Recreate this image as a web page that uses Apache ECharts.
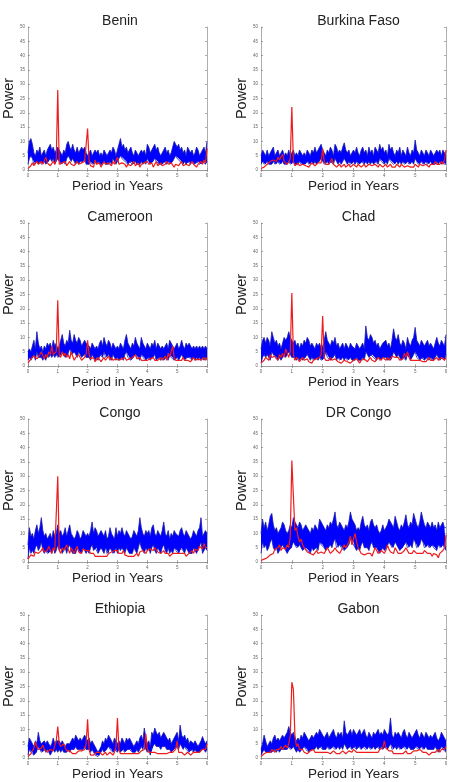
<!DOCTYPE html>
<html><head><meta charset="utf-8">
<script src="https://cdn.jsdelivr.net/npm/echarts@6/dist/echarts.min.js"></script>
<style>html,body{margin:0;padding:0;background:#fff}#c{width:454px;height:782px}</style>
</head><body><div id="c"></div>
<script>
const countries = ['Benin','Burkina Faso','Cameroon','Chad','Congo','DR Congo','Ethiopia','Gabon'];
const xTicks = [0,1,2,3,4,5,6];
const yTicks = [0,5,10,15,20,25,30,35,40,45,50];
const periods = [0,0.05,0.1,0.15,0.2,0.25,0.3,0.35,0.4,0.45,0.5,0.55,0.6,0.65,0.7,0.75,0.8,0.85,0.9,0.95,
1,1.05,1.1,1.15,1.2,1.25,1.3,1.35,1.4,1.45,1.5,1.55,1.6,1.65,1.7,1.75,1.8,1.85,1.9,1.95,
2,2.05,2.1,2.15,2.2,2.25,2.3,2.35,2.4,2.45,2.5,2.55,2.6,2.65,2.7,2.75,2.8,2.85,2.9,2.95,
3,3.05,3.1,3.15,3.2,3.25,3.3,3.35,3.4,3.45,3.5,3.55,3.6,3.65,3.7,3.75,3.8,3.85,3.9,3.95,
4,4.05,4.1,4.15,4.2,4.25,4.3,4.35,4.4,4.45,4.5,4.55,4.6,4.65,4.7,4.75,4.8,4.85,4.9,4.95,
5,5.05,5.1,5.15,5.2,5.25,5.3,5.35,5.4,5.45,5.5,5.55,5.6,5.65,5.7,5.75,5.8,5.85,5.9,5.95,6];

const beninHi = [6,10,11,9,6,5,7,6,8,5,6,7,5,7,8,9,7,8,6,7,
8,8,6,5,7,6,9,10,8,7,9,7,6,8,6,7,8,7,8,6,
5,6,7,5,6,7,6,7,5,6,5,7,6,5,6,7,6,8,7,5,
7,9,11,8,9,7,8,6,7,8,6,5,7,6,5,6,7,6,7,5,
9,8,6,7,8,9,7,8,6,5,6,7,8,6,7,5,6,8,10,10.5,
8,9,7,8,6,7,5,8,7,6,7,5,6,8,7,5,6,7,8,6,10];
const beninLo = [2,4,5,4,2,2,3,2,3,2,2,3,2,3,3,4,3,4,2,3,
4,3,2,2,3,2,4,5,4,3,4,3,2,3,2,3,3,3,4,2,
2,2,3,2,2,3,2,3,2,2,2,3,2,2,2,3,2,4,3,2,
3,4,5,4,4,3,3,2,3,3,2,2,3,2,2,2,3,2,3,2,
4,3,2,3,3,4,3,3,2,2,2,3,3,2,3,2,2,3,4,5,
4,4,3,3,2,3,2,3,3,2,3,2,2,3,3,2,2,3,3,2,3];
const beninRed = [0.5,0.8,1.5,2.5,1.5,2,3,2,2.5,3,2,2.5,4.5,2.5,2,1.5,2,3,2,4,
28,2,1.5,2.5,2,3,1.5,2,3,2,2.5,1.5,2,3,2,1.5,2.5,2,3,2.5,
14.5,3,1.5,2,1,3.5,2,1.5,2.5,1,2,3,2,1.5,2.5,2,1.5,3,2,2.5,
4.5,2,1.5,2.5,3,2,1,2,2.5,1.5,2,3,1.5,2,2.5,1,2,1.5,2.5,2,
3,2,1.5,2.5,1,2,3,1.5,2,2.5,1.5,1,2,3,2,1.5,2.5,2,1,2,
2.5,1.5,2,3,1.5,1,2,2.5,1.5,2,3,2,1.5,1,2,2.5,3,2,3.5,2.5,7.5];

const burkinaHi = [5,7,6,5,7,5,6,6,8,5,6,7,5,6,7,5,6,5,7,5,
6,7,5,6,5,7,6,5,6,5,7,6,5,7,6,8,6,7,8,9,
7,6,5,7,6,8,7,5,9,8,6,7,6,8,9.5,7,6,7,5,6,
7,6,8,6,5,7,8,6,7,5,8,6,7,5,8,7,6,9,7,8,
6,7,5,9,7,8,6,5,7,6,8,5,7,6,5,8,6,5,7,6,
10.5,7,6,5,7,6,5,7,6,5,7,6,5,6,7,6,7,5,7,6,5];
const burkinaLo = [2,3,2,2,3,2,2,2,3,2,2,3,2,2,3,2,2,2,3,2,
2,3,2,2,2,3,2,2,2,2,3,2,2,3,2,3,2,3,3,4,
3,2,2,3,2,3,3,2,4,3,2,3,2,3,4,3,2,3,2,2,
3,2,3,2,2,3,3,2,3,2,3,2,3,2,3,3,2,4,3,3,
2,3,2,4,3,3,2,2,3,2,3,2,3,2,2,3,2,2,3,2,
4,3,2,2,3,2,2,3,2,2,3,2,2,2,3,2,3,2,3,2,2];
const burkinaRed = [0.5,0.8,1,1.5,2,2.5,3,2.5,3.5,4,3,4.5,3.5,4,5.5,3,2.5,2,3,4,
22,3,1.5,2,2.5,1.5,1,2,2.5,1.5,2,1,1.5,2.5,2,1.5,2,2.5,3,2.5,
7.5,3,2,2.5,2,1.5,4,2,1.5,1,1.5,2,1,1.5,2,1,1.5,2,1,1.5,
2,1.5,1,2,1.5,1,1.5,2,1,1.5,2,2.5,1.5,1,2,1.5,1,2,1.5,1,
1.5,2,1,1.5,2,1,1.5,1,2,1.5,1,2,1.5,1,0.5,1.5,2,1,1.5,1,
2,1.5,1,2,2.5,1.5,1,2,1.5,1,2,1.5,2,3,2,2.5,2,3,2,3.5,7];

const cameroonHi = [5,6,5,7,9,6,12,8,6,7,5,7,6,8,7,8,6,9,7,8,
6,7,9,11,8,7,9,8,12.5,9,8,11,9,8,10,9,7,8,9,8,
8,7,6,8,7,6,7,6,8,9,7,10,8,7,9,8,6,8,7,6,
7,6,8,7,6,9,11,8,7,6,8,7,10,8,7,6,10,8,7,6,
8,7,6,8,7,9,6,8,7,6,7,6,7,8,6,9,8,7,6,7,
8,6,7,9,7,6,8,7,8,7,6,7,6,7,6,7,6,7,6,7,6];
const cameroonLo = [2,3,2,3,4,2,5,3,3,3,2,3,2,4,3,4,3,4,3,4,
3,3,4,5,4,3,4,4,6,4,4,5,4,3,5,4,3,4,4,3,
3,3,2,4,3,2,3,2,4,4,3,5,3,3,4,3,2,4,3,2,
3,2,3,3,2,4,5,3,3,2,3,3,4,3,3,2,4,3,3,2,
3,3,2,3,3,4,2,3,3,2,3,2,3,3,2,4,3,3,2,3,
3,2,3,4,3,2,3,3,3,3,2,3,2,3,2,3,2,3,2,3,2];
const cameroonRed = [1,1.5,2.5,2,3.5,4,2.5,3,4,5,3.5,2.5,4,3,5,4,7,4,3.5,5,
23,4,3,5,3.5,4.5,3,4,2.5,5,3.5,2,3,2.5,4,3,2,2.5,3,4,
9,4,2.5,2,3,1.5,2,3,2.5,1.5,2,3,2,2.5,3.5,2,3,2,1.5,2.5,
3,2,1.5,2.5,2,3,2,1.5,2.5,2,3,3.5,4,2.5,2,3,2,1.5,2,2.5,
2,1.5,2.5,2,3,2,1.5,2,2.5,3,2,2.5,3.5,2,4.5,3,5,7,3,2,
2.5,2,1.5,2,3,2,1.5,2,2.5,1.5,2,3,2,1.5,2.5,3,2,2.5,3,2,3];

const chadHi = [6,9,10,8,10,9,7,12,10,8,9,7,8,6,8,10,9,10,12,10,
9,8,9,7,8,6,8,7,9,8,10,9,7,8,7,6,8,7,8,6,
7,9,12,9,8,7,9,8,10,7,8,6,7,8,6,8,7,6,8,7,
7,6,8,7,6,7,8,6,14,10,9,11,10,8,9,7,8,6,7,8,
8,9,7,8,6,9,13,10,9,11,8,7,9,8,6,10,8,7,9,10,
13.5,9,8,7,9,8,7,8,9,7,8,7,6,8,10,8,7,9,8,7,11];
const chadLo = [1,3,4,3,4,3,2,5,4,3,3,2,3,2,3,4,3,4,5,4,
3,3,3,2,3,2,3,2,3,3,4,3,2,3,2,2,3,2,3,2,
2,3,5,3,3,2,3,3,4,2,3,2,2,3,2,3,2,2,3,2,
2,2,3,2,2,2,3,2,5,4,3,4,4,3,3,2,3,2,2,3,
3,3,2,3,2,3,5,4,3,4,3,2,3,3,2,4,3,2,3,4,
5,3,3,2,3,3,2,3,3,2,3,2,2,3,4,3,2,3,3,2,4];
const chadRed = [1,1.5,2,3,2.5,2,4,3,2.5,3.5,3,2,4,3,4.5,3,6,4.5,3,5,
25.5,4,2,3,2.5,1.5,2,3,2,1.5,2.5,1.5,2,1,2,1.5,2.5,2,3,4,
17.5,3,2,1.5,2,3,2,1.5,2.5,2,1.5,2,1,1.5,2,2.5,1.5,2,1,1.5,
2,1.5,2.5,2,1,2,1.5,2.5,2,1.5,2,3,2,2.5,1.5,2,3,2.5,2,3,
2.5,2,3,2,2.5,3.5,4,3,2.5,3,2,1.5,2.5,4.5,3,5,3.5,2,2.5,2,
1.5,2,1.5,2,2.5,1.5,2,1.5,2,3,2,1.5,2,2.5,3,2,2.5,3,2.5,2,3];

const congoHi = [6,12,9,10,8,11,13,10,12,15.5,11,9,10,8,9,10,8,11,9,10,
13,10,11,9,10,12,9,11,13,10,9,8,9,11,10,8,9,11,10,9,
10,9,11,14,10,12,11,9,10,11,10,9,11,8,9,12,10,9,8,12,
9,11,10,12,10,9,11,10,9,8,9,11,10,9,11,15.5,12,10,9,11,
10,11,9,12,13,10,9,11,10,9,11,14,10,9,11,8,10,9,11,10,
10,9,11,12,10,9,11,10,9,8,9,11,10,9,11,12,15.5,9,10,11,10];
const congoLo = [1,5,3,4,3,5,6,4,5,7,4,3,4,3,3,4,3,5,3,4,
6,4,5,3,4,5,3,5,6,4,3,3,3,5,4,3,3,5,4,3,
4,3,5,6,4,5,5,3,4,5,4,3,5,3,3,5,4,3,3,5,
3,5,4,5,4,3,5,4,3,3,3,5,4,3,5,7,5,4,3,5,
4,5,3,5,6,4,3,5,4,3,5,6,4,3,5,3,4,3,5,4,
4,3,5,5,4,3,5,4,3,3,3,5,4,3,5,5,7,3,4,5,4];
const congoRed = [1,1.5,2.5,3,2,3.5,4,3,2.5,4,5,3.5,3,4,5.5,4,3,5,4,4.5,
30,4,3,5,4,3.5,6,4.5,3,5,4,3,4.5,5.5,3.5,4,3,4.5,5,4,
3.5,4,3,2.5,3,2,2.5,2,2.5,2,1.5,2,2.5,2,3,2.5,3.5,3,4,3.5,
4,3,3.5,3,4,2.5,3,2,2.5,2,1.5,2,2.5,3,2,3.5,3,4,3.5,3,
4,3.5,4.5,5,4,5,4.5,3.5,4,3,3.5,4,3,2.5,3,2,2.5,3,2.5,3,
2.5,3,3.5,3,2.5,3,2,2.5,3,3.5,4,3,4.5,5,4,5.5,6,4.5,6.5,5,5];

const drcHi = [10,15,12,14,11,13,16,17,13,11,12,10,11,12,14,13,11,10,11,13,
12,15.5,14,13,12,14,13,11,12,13,12,11,10,12,11,13,12,11,15,14,
14,12,11,13,12,14,13,15,17.5,13,12,14,13,12,11,13,12,14,17.5,15,
15,13,11,12,11,14,16,13,12,13,11,14,15,13,12,13,11,10,11,13,
11,12,13,15,14,13,12,16,14,12,11,13,12,14,16.5,13,12,14,13,17,
15,13,12,14,17.5,15,13,12,14,13,12,14,12,13,11,14,12,13,14,12,12];
const drcLo = [3,7,5,6,4,5,7,8,5,4,5,3,4,5,6,5,4,3,4,5,
5,7,6,5,5,6,5,4,5,5,4,4,3,5,4,5,5,4,7,6,
6,5,4,5,5,6,5,7,8,5,5,6,5,5,4,5,5,6,8,7,
7,5,4,5,4,6,7,5,5,5,4,6,7,5,5,5,4,3,4,5,
4,5,5,7,6,5,5,7,6,5,4,5,5,6,7,5,5,6,5,8,
7,5,5,6,8,7,5,5,6,5,5,6,5,5,4,6,5,5,6,5,4];
const drcRed = [0.5,0.8,1,1.5,1.5,2,2.5,2,3,4.5,4,5,6,4,5,5.5,4.5,6,5,9,
35.5,35,11,12,9,7,8,6,5,4.5,3.5,4,3,3.5,2.5,3,4,3,2.5,3.5,
4,3,3.5,5,4,3,3.5,4,5,4,3.5,3,4,5,6,5,4.5,7,9,6,
8,10,7,5,4,3,3.5,2.5,2,3,2.5,3,2,3.5,5,4,3,2.5,4,3.5,
3,4,6,4.5,3.5,4,3,5,4,3,2.5,3,3.5,4,5,4,3,2.5,3,4,
4,3,3.5,3,2.5,3,4,3.5,3,2.5,3,2,3,3.5,2.5,1.5,3,2.5,4,5,9.5];

const ethiopiaHi = [4,7,6,5,4,6,5,9,6,5,5,6,5,6,5,4,5,7,5,6,
6,6,5,6,5,4,5,5.5,5,6,7,6,8,7,6,7,6,7,8,7,
6,7,5,6,5,4,3,2,3,4,6,5,7,6,8,7,6,5,7,6,
5,6,5,7,6,5,7,6,7,6,5,4,5,6,5,7,8,6,10.5,7,
5,6,4,9,8,10.5,9,8,9,7,8,9,8,7,6,7,5,6,7,8,
9,6,11.5,8,7,8,6,7,5,6,6,5,6,5,4,5,6,7.5,6,5,6];
const ethiopiaLo = [1,3,2,2,1,2,2,4,3,2,2,3,2,3,2,1,2,3,2,3,
2,3,2,3,2,2,2,3,2,3,3,3,4,3,3,3,3,3,4,3,
3,3,2,3,2,1,1,0.5,1,2,3,2,3,3,4,3,3,2,3,3,
2,3,2,3,3,2,3,3,3,3,2,2,2,3,2,3,4,3,5,3,
2,3,1,4,4,5,4,4,4,3,4,4,4,3,3,3,2,3,3,4,
4,3,5,4,3,4,3,3,2,3,3,2,3,2,2,2,3,3,3,2,3];
const ethiopiaRed = [0.5,1,1.5,2,3.5,5.5,4,3,2.5,3.5,4.5,3,2.5,2,2.5,3,3,2.5,3,6,
11,5,4,3.5,5,3.5,2.5,3,2.5,2,1.5,2,1.5,2,2.5,2,2.5,2,3,5,
13.5,3,1,1.5,1,1.5,2,1.5,2,1.5,1,1.5,2,1,1.5,2,1.5,1,2,4,
14,3,1.5,1,1.5,1,1.5,1,1.5,2,1.5,1,1.5,2,1.5,2,2.5,2,3,8.5,
3,2,2.5,2,1.5,2,2.5,1.5,2,1.5,1,1.5,2,1.5,1,2,1.5,2,2.5,3,
6,2,1.5,2,1.5,1,1.5,2,1.5,1,1.5,2,1.5,2,2.5,2,2,3,2.5,3,5];

const gabonHi = [3,5,8,6,4,5,6,5,7,8,6,7,6,7,8,7,8,9,11,9,
8,9,7,6,7,6,8,7,9,8,7,6,7,8,7,8,9,8,10,9,
8,7,8,9,7,8,9,10,8,7,9,8,9,7,13,9,8,9,10,8,
10,9,8,9,10,8,9,10,8,7,9,8,7,9,8,9,10,8,9,8,
10,9,8,9,14,8,7,9,8,9,8,7,9,10,8,7,9,8,7,8,
9,10,8,7,9,8,7,9,8,7,8,7,8,9,7,6,7,9,8,7,6];
const gabonLo = [1,2,3,2,1.5,2,2,2,3,3,2,3,2,3,3,3,3,3,4,3,
3,4,3,2,3,2,3,3,4,3,3,2,3,3,3,3,4,3,4,4,
3,3,3,4,3,3,4,4,3,3,4,3,4,3,5,4,3,4,4,3,
4,4,3,4,4,3,4,4,3,3,4,3,3,4,3,4,4,3,4,3,
4,4,3,4,5,3,3,4,3,4,3,3,4,4,3,3,4,3,3,3,
4,4,3,3,4,3,3,4,3,3,3,3,3,4,3,2,3,4,3,3,2];
const gabonRed = [0.5,1,1.5,1.5,2,2.5,2,3,2.5,2,3,2.5,3,4,3,3.5,4.5,3.5,5,8,
26.5,24,8,4,5,3,2.5,3,2,2.5,1.5,2,2.5,2,3,2,2.5,2,1.5,2,
2.5,2,1.5,2,2.5,1.5,2,2.5,2,1.5,2,1.5,2,2.5,2,1.5,2,2.5,3,2,
3,2.5,2,1.5,2,2.5,2,1.5,2,2.5,2,1.5,2,1.5,2,2.5,2,3,2.5,3.5,
6,3.5,3,2.5,2,2.5,1.5,2,1.5,1,1.5,2,1.5,2,2.5,1.5,2,1.5,2,2.5,
2,2.5,2,3,2.5,2,1.5,2,1.5,1,1.5,2,2.5,2,2.5,3,2,3,2.5,3,4];

const panels = [
  [beninHi, beninLo, beninRed],
  [burkinaHi, burkinaLo, burkinaRed],
  [cameroonHi, cameroonLo, cameroonRed],
  [chadHi, chadLo, chadRed],
  [congoHi, congoLo, congoRed],
  [drcHi, drcLo, drcRed],
  [ethiopiaHi, ethiopiaLo, ethiopiaRed],
  [gabonHi, gabonLo, gabonRed]
];

const FONT = 'Liberation Sans, Arial, Helvetica, sans-serif';
const cats = periods.map(String);
const step = (periods.length - 1) / (xTicks.length - 1); // categories per year
const isTick = (i) => i % step === 0;
const chart = echarts.init(document.getElementById('c'), null, {renderer: 'canvas'});
const grid = [], xAxis = [], yAxis = [], series = [], title = [];
const tickStyle = {show: true, inside: true, length: 2, lineStyle: {color: '#777', width: 0.6}};
const lineAx = {show: true, lineStyle: {color: '#999', width: 0.8}};

countries.forEach((name, k) => {
  const col = k % 2, row = Math.floor(k / 2);
  const left = col === 0 ? 23 : 261;
  const width = col === 0 ? 184 : 185;
  const top = 27 + row * 196;
  grid.push({left: left, top: top, width: width, height: 143, containLabel: false});
  title.push({text: name, left: left + width / 2, top: top - 18, textAlign: 'center',
    textStyle: {fontFamily: FONT, fontSize: 14, fontWeight: 'normal', color: '#222'}});
  const gi = k;
  xAxis.push({type: 'category', gridIndex: gi, data: cats, boundaryGap: false,
    position: 'bottom', axisLine: lineAx,
    axisTick: Object.assign({}, tickStyle, {interval: (i) => isTick(i), alignWithLabel: true}),
    splitLine: {show: false},
    axisLabel: {fontSize: 4.5, color: '#666', margin: 3, fontFamily: FONT,
      interval: (i) => isTick(i), formatter: (v) => String(Number(v))},
    name: 'Period in Years', nameLocation: 'middle', nameGap: 7,
    nameTextStyle: {fontFamily: FONT, fontSize: 13.5, color: '#222', verticalAlign: 'top'}});
  xAxis.push({type: 'category', gridIndex: gi, data: cats, boundaryGap: false,
    position: 'top', axisLine: lineAx,
    axisTick: Object.assign({}, tickStyle, {interval: (i) => isTick(i)}),
    axisLabel: {show: false}, splitLine: {show: false}});
  yAxis.push({type: 'value', gridIndex: gi, min: yTicks[0], max: yTicks[yTicks.length - 1], interval: 5,
    position: 'left', axisLine: lineAx, axisTick: tickStyle, splitLine: {show: false},
    axisLabel: {fontSize: 4.5, color: '#666', margin: 3, fontFamily: FONT},
    name: 'Power', nameLocation: 'middle', nameGap: 7,
    nameTextStyle: {fontFamily: FONT, fontSize: 14.5, color: '#222', verticalAlign: 'bottom'}});
  yAxis.push({type: 'value', gridIndex: gi, min: yTicks[0], max: yTicks[yTicks.length - 1], interval: 5,
    position: 'right', axisLine: lineAx, axisTick: tickStyle, axisLabel: {show: false}, splitLine: {show: false}});

  const [hi, lo, red] = panels[k];
  const xi = 2 * k, yi = 2 * k;
  series.push({type: 'line', xAxisIndex: xi, yAxisIndex: yi, stack: 'band' + k, symbol: 'none',
    data: lo, lineStyle: {color: '#1a1ab0', width: 0.8}, z: 2, silent: true});
  series.push({type: 'line', xAxisIndex: xi, yAxisIndex: yi, stack: 'band' + k, symbol: 'none',
    data: hi.map((v, i) => v - lo[i]), lineStyle: {color: '#1a1ab0', width: 0.8},
    areaStyle: {color: '#0000ff', opacity: 1}, z: 2, silent: true});
  series.push({type: 'line', xAxisIndex: xi, yAxisIndex: yi, symbol: 'none',
    data: red, lineStyle: {color: '#ee1c1c', width: 1.2}, z: 3, silent: true});
});

chart.setOption({animation: false, backgroundColor: '#fff', title, grid, xAxis, yAxis, series});
</script></body></html>
